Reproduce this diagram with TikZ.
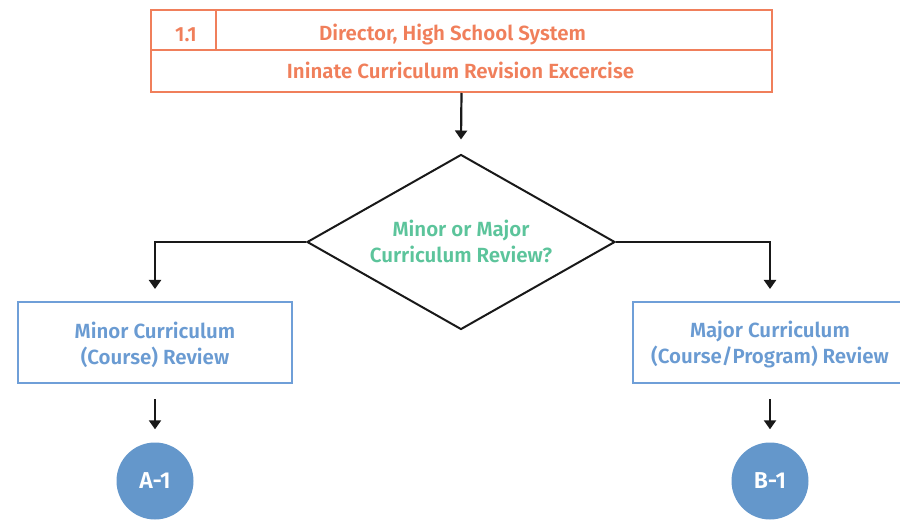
\documentclass[tikz,border=0pt]{standalone}
\usepackage{fontspec}
\setmainfont{Fira Sans}[BoldFont={Fira Sans SemiBold}]
\usetikzlibrary{shapes.geometric,arrows.meta}
\definecolor{orng}{HTML}{F07F5B}
\definecolor{bluebd}{HTML}{6F9FD8}
\definecolor{bluetx}{HTML}{6A9BD2}
\definecolor{bluefill}{HTML}{6497CB}
\definecolor{grn}{HTML}{5CC49B}
\tikzset{
  txt/.style={font=\bfseries\fontsize{20.5}{26}\selectfont},
  obox/.style={draw=orng,line width=2pt,inner sep=0pt,anchor=north west},
  otext/.style={text=orng,txt,inner sep=0pt},
  bbox/.style={draw=bluebd,line width=2pt,inner sep=0pt,minimum width=274pt,minimum height=81pt},
  btext/.style={text=bluetx,txt,align=center,inner sep=0pt},
  dec/.style={draw=black!90,line width=2pt,diamond,inner sep=0pt,minimum width=308pt,minimum height=175pt},
  dectext/.style={text=grn,txt,align=center,inner sep=0pt},
  conn/.style={circle,fill=bluefill,text=white,font=\bfseries\fontsize{23}{26}\selectfont,inner sep=0pt,minimum size=77pt},
  arr/.style={draw=black!90,line width=2.2pt,-{Triangle[width=12pt,length=9pt]}}
}
\begin{document}
\begin{tikzpicture}[x=1pt,y=-1pt]
\clip (0,0) rectangle (900,521);
\node[obox,minimum width=65pt,minimum height=40pt] (num) at (150,9) {};
\node[obox,minimum width=556pt,minimum height=40pt] (title) at (215,9) {};
\node[obox,minimum width=621pt,minimum height=42pt] (task) at (150,49) {};
\node[otext] (numtext) at (186,34.5) {1.1};
\node[otext] (titletext) at (452.5,34.5) {Director, High School System};
\node[otext] (tasktext) at (460.5,70) {Ininate Curriculum Revision Excercise};
\node[dec] (dia) at (461,242) {};
\node[dectext] (diatext) at (461,241) {Minor or Major\\Curriculum Review?};
\node[bbox] (minor) at (155,342.5) {};
\node[btext] (minortext) at (155,345) {Minor Curriculum\\(Course) Review};
\node[bbox] (major) at (770,342.5) {};
\node[btext] (majortext) at (770,345) {Major Curriculum\\(Course/Program) Review};
\node[conn] (a1) at (155,481) {A-1};
\node[conn] (b1) at (770,481) {B-1};
\draw[arr] (task.south) -- ([yshift=14pt]dia.north);
\draw[arr] (dia.west) -| ([yshift=12pt]minor.north);
\draw[arr] (dia.east) -| ([yshift=12pt]major.north);
\draw[arr] ([yshift=-15pt]minor.south) -- ([yshift=13pt]a1.north);
\draw[arr] ([yshift=-15pt]major.south) -- ([yshift=13pt]b1.north);
\end{tikzpicture}
\end{document}
